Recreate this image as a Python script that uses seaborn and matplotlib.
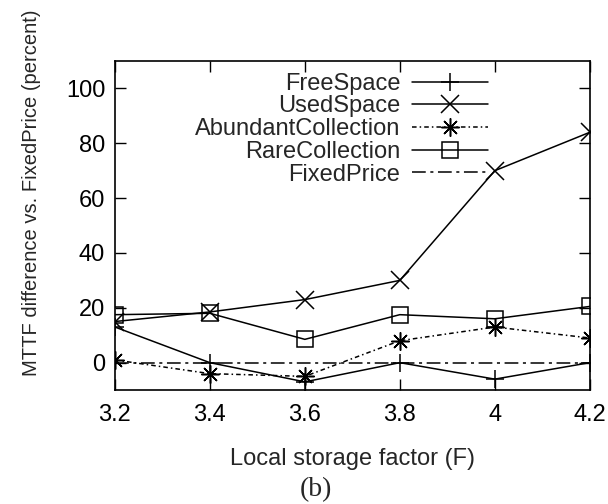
import pandas as pd
import seaborn as sns
import matplotlib
matplotlib.use('Agg')
import matplotlib.pyplot as plt

# Dados
factor = [3.2, 3.4, 3.6, 3.8, 4.0, 4.2]
free_space = [13, 0, -7, 0, -6, 0]
used_space = [15, 18.5, 23, 30, 70, 84]
abundant = [1, -4, -5, 8, 13, 9]
rare = [17.5, 18, 8.5, 17.5, 16, 20.5]
fixed_price = [0, 0, 0, 0, 0, 0]
x_ticks = [3.2, 3.4, 3.6, 3.8, 4.0, 4.2]
x_tick_labels = ['3.2', '3.4', '3.6', '3.8', '4', '4.2']
y_ticks = [0, 20, 40, 60, 80, 100]

sns.set_style('ticks')
plt.rcParams['font.family'] = ['Liberation Sans', 'DejaVu Sans']

fig = plt.figure(figsize=(6.08, 5.04), dpi=100)
ax = fig.add_axes([0.189, 0.226, 0.781, 0.653])

series = [
    ('FreeSpace', free_space, '+', '-'),
    ('UsedSpace', used_space, 'x', '-'),
    ('AbundantCollection', abundant, (8, 2, 0), (0, (3, 2, 1, 2))),
    ('RareCollection', rare, 's', '-'),
    ('FixedPrice', fixed_price, None, (0, (9, 3, 2, 3))),
]

for name, vals, mk, ls in series:
    df = pd.DataFrame({'F': factor, 'v': vals})
    sns.lineplot(data=df, x='F', y='v', ax=ax, color='black', linewidth=1.1,
                 linestyle=ls, marker=mk, markersize=12 if mk == 's' else 13,
                 markerfacecolor='none', markeredgecolor='black',
                 markeredgewidth=1.1, label=name)

ax.set_xlim(3.2, 4.2)
ax.set_ylim(-10, 110)
ax.set_xticks(x_ticks)
ax.set_xticklabels(x_tick_labels)
ax.set_yticks(y_ticks)
ax.tick_params(direction='in', length=8, width=1, top=True, right=True,
               labelsize=17, colors='black', pad=7)
ax.tick_params(axis='x', pad=10)
for s in ax.spines.values():
    s.set_linewidth(1.2)
    s.set_color('black')

ax.set_xlabel('Local storage factor (F)', fontsize=17, labelpad=16)
ax.set_ylabel('MTTF difference vs. FixedPrice (percent)', fontsize=14.5)
# etiqueta do eixo y um pouco acima do centro, como no original
ax.yaxis.set_label_coords(-0.155, 0.60)

leg = ax.legend(loc='upper right', bbox_to_anchor=(0.81, 1.0), frameon=False,
                markerfirst=False, fontsize=17, handlelength=3.2,
                labelspacing=0.03, borderpad=0, handletextpad=0.5)

fig.text(0.52, 0.015, '(b)', ha='center', fontsize=20,
         family=['Liberation Serif', 'DejaVu Serif'])

plt.savefig('out.png', dpi=100)
